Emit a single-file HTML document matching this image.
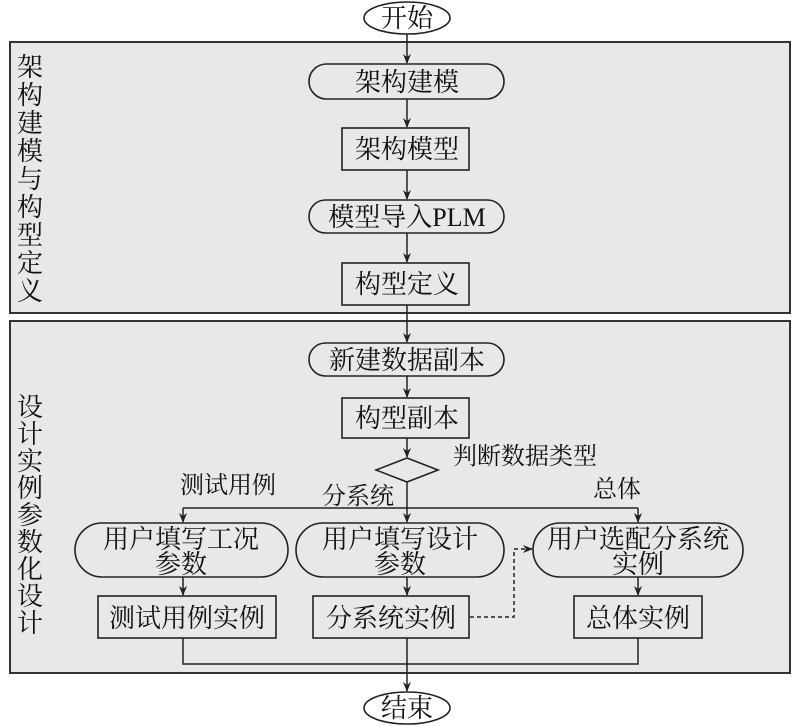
<!DOCTYPE html>
<html><head><meta charset="utf-8"><style>
html,body{margin:0;padding:0;background:#fff;}
svg{display:block;}
text{font-family:"Liberation Serif","Noto Serif CJK SC",serif;fill:#111;}
</style></head><body>
<svg width="800" height="726" viewBox="0 0 800 726" xmlns="http://www.w3.org/2000/svg">
<defs>
<marker id="a" markerWidth="10" markerHeight="10" refX="9" refY="5" orient="auto" markerUnits="userSpaceOnUse">
<path d="M0,1 L10,5 L0,9 L3,5 Z" fill="#222"/>
</marker>
</defs>
<g stroke="#333" stroke-width="2" fill="#e8e8e8">
<rect x="10" y="42" width="780" height="271"/>
<rect x="10" y="321" width="780" height="352"/>
</g>
<g font-size="26" text-anchor="middle">
<text x="30" y="76">架</text><text x="30" y="104">构</text><text x="30" y="132">建</text><text x="30" y="160">模</text><text x="30" y="188">与</text><text x="30" y="216">构</text><text x="30" y="244">型</text><text x="30" y="272">定</text><text x="30" y="300">义</text>
<text x="30" y="416">设</text><text x="30" y="443">计</text><text x="30" y="470">实</text><text x="30" y="497">例</text><text x="30" y="524">参</text><text x="30" y="551">数</text><text x="30" y="578">化</text><text x="30" y="605">设</text><text x="30" y="632">计</text>
</g>
<g stroke="#222" stroke-width="1.5" fill="none">
<line x1="407" y1="34" x2="407" y2="63" marker-end="url(#a)"/>
<line x1="407" y1="99" x2="407" y2="127" marker-end="url(#a)"/>
<line x1="407" y1="170" x2="407" y2="199" marker-end="url(#a)"/>
<line x1="407" y1="233" x2="407" y2="262" marker-end="url(#a)"/>
<line x1="407" y1="305" x2="407" y2="342" marker-end="url(#a)"/>
<line x1="407" y1="376" x2="407" y2="397" marker-end="url(#a)"/>
<line x1="407" y1="438" x2="407" y2="457" marker-end="url(#a)"/>
<line x1="407" y1="482" x2="407" y2="508"/>
<line x1="183" y1="508" x2="638" y2="508"/>
<line x1="183" y1="508" x2="183" y2="522" marker-end="url(#a)"/>
<line x1="407" y1="508" x2="407" y2="522" marker-end="url(#a)"/>
<line x1="638" y1="508" x2="638" y2="522" marker-end="url(#a)"/>
<line x1="183" y1="577" x2="183" y2="595" marker-end="url(#a)"/>
<line x1="407" y1="577" x2="407" y2="595" marker-end="url(#a)"/>
<line x1="638" y1="577" x2="638" y2="595" marker-end="url(#a)"/>
<polyline points="183,638 183,664 638,664 638,638"/>
<line x1="407" y1="638" x2="407" y2="691" marker-end="url(#a)"/>
<polyline points="470,617 514,617 514,549 532,549" stroke-dasharray="4,3" marker-end="url(#a)"/>
</g>
<g stroke="#222" stroke-width="1.6" fill="#e8e8e8">
<ellipse cx="407" cy="18" rx="43" ry="16" fill="#fff"/>
<rect x="309" y="64" width="195" height="35" rx="17.5"/>
<rect x="342" y="128" width="127" height="42"/>
<rect x="309" y="200" width="195" height="33" rx="16.5"/>
<rect x="342" y="263" width="127" height="42"/>
<rect x="309" y="343" width="195" height="33" rx="16.5"/>
<rect x="342" y="398" width="127" height="40"/>
<polygon points="407,458 438,470 407,482 376,470"/>
<rect x="75" y="523" width="213" height="54" rx="27"/>
<rect x="296" y="523" width="208" height="54" rx="27"/>
<rect x="533" y="523" width="210" height="54" rx="27"/>
<rect x="98" y="596" width="178" height="42"/>
<rect x="313" y="596" width="156" height="42"/>
<rect x="574" y="596" width="128" height="42"/>
<ellipse cx="407" cy="708" rx="43" ry="16" fill="#fff"/>
</g>
<g font-size="26" text-anchor="middle">
<text x="407" y="27">开始</text>
<text x="407" y="91">架构建模</text>
<text x="407" y="158">架构模型</text>
<text x="407" y="226">模型导入PLM</text>
<text x="407" y="293">构型定义</text>
<text x="407" y="369">新建数据副本</text>
<text x="407" y="427">构型副本</text>
<text x="181" y="548">用户填写工况</text>
<text x="181" y="573">参数</text>
<text x="400" y="548">用户填写设计</text>
<text x="400" y="573">参数</text>
<text x="638" y="548">用户选配分系统</text>
<text x="638" y="573">实例</text>
<text x="187" y="627">测试用例实例</text>
<text x="391" y="627">分系统实例</text>
<text x="638" y="627">总体实例</text>
<text x="407" y="717">结束</text>
</g>
<g font-size="24">
<text x="453" y="464">判断数据类型</text>
<text x="180" y="493">测试用例</text>
<text x="322" y="504">分系统</text>
<text x="593" y="497">总体</text>
</g>
</svg>
</body></html>
